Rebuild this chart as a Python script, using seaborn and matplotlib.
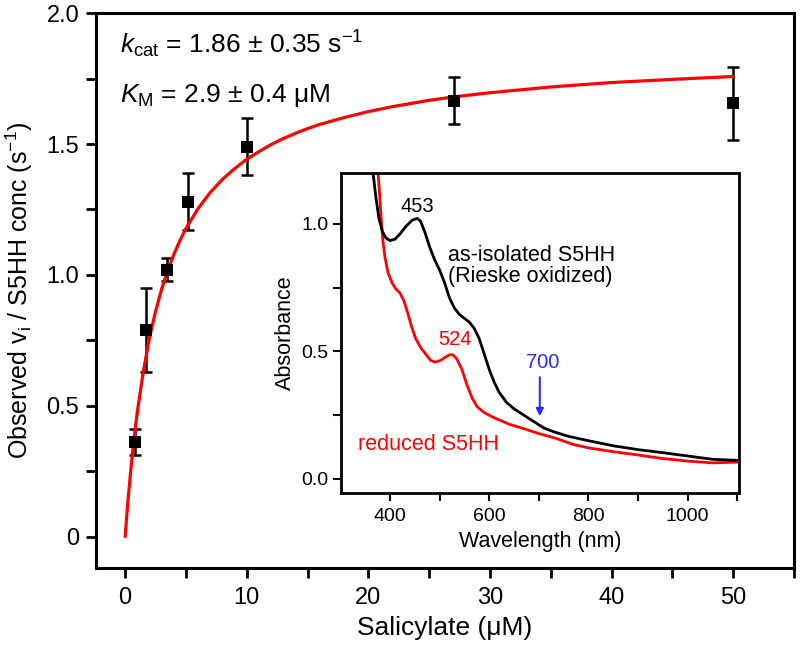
import matplotlib
matplotlib.use("Agg")
import matplotlib.pyplot as plt
import seaborn as sns
import pandas as pd
from matplotlib.ticker import MultipleLocator, FixedLocator

# ---- main plot data ----
sal_conc = [0.8, 1.7, 3.4, 5.2, 10.0, 27.0, 50.0]
rate = [0.36, 0.79, 1.02, 1.28, 1.49, 1.665, 1.655]
rate_err = [0.05, 0.16, 0.045, 0.11, 0.11, 0.09, 0.14]

fit_x = [0, 0.1, 0.25, 0.5, 0.75, 1, 1.5, 2, 2.5, 3, 3.5, 4, 4.5, 5, 6, 7, 8, 9, 10, 11, 12, 13,
         14, 15, 16, 18, 20, 22, 25, 27, 30, 35, 40, 45, 50]
fit_y = [0, 0.062, 0.148, 0.274, 0.382, 0.477, 0.634, 0.759, 0.861, 0.946, 1.017, 1.078, 1.131,
         1.177, 1.254, 1.315, 1.365, 1.406, 1.442, 1.471, 1.498, 1.521, 1.541, 1.559, 1.575,
         1.601, 1.624, 1.643, 1.667, 1.680, 1.696, 1.718, 1.735, 1.747, 1.758]

x_ticks = [0, 10, 20, 30, 40, 50]
y_ticks = [0, 0.5, 1.0, 1.5, 2.0]
y_tick_labels = ["0", "0.5", "1.0", "1.5", "2.0"]

# ---- inset spectra ----
ox_nm = [362, 366, 372, 378, 385, 392, 400, 410, 420, 432, 445, 455, 462, 470, 480, 490, 500, 510,
         520, 530, 540, 550, 560, 570, 580, 590, 600, 610, 620, 635, 650, 670, 690, 710, 730, 760,
         800, 850, 900, 950, 1000, 1050, 1100]
ox_abs = [1.25, 1.2, 1.1, 1.02, 0.97, 0.945, 0.935, 0.94, 0.96, 0.99, 1.015, 1.022, 1.01, 0.97,
          0.91, 0.86, 0.82, 0.77, 0.71, 0.67, 0.645, 0.63, 0.615, 0.59, 0.55, 0.49, 0.43, 0.38,
          0.34, 0.30, 0.275, 0.25, 0.225, 0.20, 0.185, 0.167, 0.15, 0.13, 0.115, 0.103, 0.09,
          0.077, 0.073]
red_nm = [374, 378, 382, 386, 390, 396, 404, 412, 420, 428, 436, 444, 452, 462, 472, 482, 492,
          502, 512, 520, 527, 535, 545, 555, 565, 575, 590, 610, 640, 670, 700, 730, 770, 800,
          850, 900, 950, 1000, 1050, 1100]
red_abs = [1.25, 1.15, 1.03, 0.93, 0.87, 0.81, 0.77, 0.745, 0.73, 0.70, 0.65, 0.595, 0.55, 0.515,
           0.49, 0.465, 0.458, 0.465, 0.478, 0.487, 0.487, 0.47, 0.43, 0.37, 0.32, 0.285, 0.26,
           0.24, 0.215, 0.197, 0.178, 0.162, 0.135, 0.122, 0.107, 0.094, 0.08, 0.07, 0.063, 0.066]
inset_x_ticks = [400, 600, 800, 1000]
inset_y_ticks = [0.0, 0.5, 1.0]

sns.set_theme(style="ticks")
plt.rcParams["font.family"] = ["Liberation Sans", "DejaVu Sans"]
plt.rcParams["mathtext.fontset"] = "custom"
plt.rcParams["mathtext.rm"] = "Liberation Sans"
plt.rcParams["mathtext.it"] = "Liberation Sans:italic"
plt.rcParams["mathtext.default"] = "regular"

fig = plt.figure(figsize=(8, 6.52), dpi=100)
ax = fig.add_axes([0.12, 0.1288, 0.8725, 0.851])

main_df = pd.DataFrame({"x": sal_conc, "y": rate, "err": rate_err})
fit_df = pd.DataFrame({"x": fit_x, "y": fit_y})

ax.errorbar(main_df["x"], main_df["y"], yerr=main_df["err"], fmt="none", ecolor="black",
            elinewidth=1.8, capsize=4.5, capthick=1.8, zorder=2)
sns.lineplot(data=fit_df, x="x", y="y", ax=ax, color="#ff0000", linewidth=2.3, zorder=3)
sns.scatterplot(data=main_df, x="x", y="y", ax=ax, marker="s", s=78, color="black",
                edgecolor="black", linewidth=0, zorder=4)

ax.set_xlim(-2.4, 55)
ax.set_ylim(-0.12, 2.0)
ax.set_xticks(x_ticks)
ax.set_xticklabels([str(v) for v in x_ticks])
ax.set_yticks(y_ticks)
ax.set_yticklabels(y_tick_labels)
ax.xaxis.set_minor_locator(MultipleLocator(5))
ax.yaxis.set_minor_locator(MultipleLocator(0.25))
for sp in ax.spines.values():
    sp.set_linewidth(2.2)
    sp.set_color("black")
    sp.set_visible(True)
ax.tick_params(axis="both", which="both", direction="out", length=7, width=2,
               color="black", labelsize=17, labelcolor="black")
ax.tick_params(axis="x", which="major", pad=7)
ax.tick_params(axis="y", which="major", pad=5)
ax.set_xlabel("Salicylate (\u03bcM)", fontsize=19, color="black")
ax.set_ylabel("Observed v$_\\mathrm{i}$ / S5HH conc (s$^{-1}$)", fontsize=18, color="black")
ax.xaxis.set_label_coords(0.5, -0.087)
ax.yaxis.set_label_coords(-0.087, 0.5)

ax.text(-0.4, 1.847, "$\\mathit{k}_\\mathrm{cat}$ = 1.86 \u00b1 0.35 s$^{-1}$", fontsize=19,
        color="black", va="baseline", ha="left")
ax.text(-0.4, 1.661, "$\\mathit{K}_\\mathrm{M}$ = 2.9 \u00b1 0.4 \u03bcM", fontsize=19,
        color="black", va="baseline", ha="left")

# ---- inset ----
ins = fig.add_axes([0.426, 0.2439, 0.4975, 0.4908])
ins.set_facecolor("white")
ox_df = pd.DataFrame({"nm": ox_nm, "A": ox_abs})
red_df = pd.DataFrame({"nm": red_nm, "A": red_abs})
sns.lineplot(data=red_df, x="nm", y="A", ax=ins, color="#ff0000", linewidth=2.0, sort=False)
sns.lineplot(data=ox_df, x="nm", y="A", ax=ins, color="black", linewidth=2.0, sort=False)
ins.set_xlim(301, 1103)
ins.set_ylim(-0.055, 1.2)
ins.set_xticks(inset_x_ticks)
ins.set_xticklabels([str(v) for v in inset_x_ticks])
ins.set_yticks(inset_y_ticks)
ins.set_yticklabels(["0.0", "0.5", "1.0"])
ins.xaxis.set_minor_locator(FixedLocator([300, 500, 700, 900, 1100]))
ins.yaxis.set_minor_locator(FixedLocator([0.25, 0.75]))
for sp in ins.spines.values():
    sp.set_linewidth(2.0)
    sp.set_color("black")
    sp.set_visible(True)
ins.tick_params(axis="both", which="both", direction="out", length=6, width=1.5,
                color="black", labelsize=14, labelcolor="black")
ins.tick_params(axis="x", which="major", pad=5)
ins.tick_params(axis="y", which="major", pad=3)
ins.set_xlabel("Wavelength (nm)", fontsize=15.5, color="black")
ins.set_ylabel("Absorbance", fontsize=15.5, color="black")
ins.xaxis.set_label_coords(0.5, -0.118)
ins.yaxis.set_label_coords(-0.112, 0.5)

ins.text(456, 1.07, "453", fontsize=14.5, color="black", ha="center", va="center")
ins.text(517, 0.835, "as-isolated S5HH\n(Rieske oxidized)", fontsize=15.5, color="black",
         ha="left", va="center", linespacing=1.05)
ins.text(531, 0.545, "524", fontsize=14.5, color="#ff0000", ha="center", va="center")
ins.text(336, 0.137, "reduced S5HH", fontsize=15.5, color="#ff0000", ha="left", va="center")
ins.text(708, 0.455, "700", fontsize=14.5, color="#2a2aff", ha="center", va="center")
ins.annotate("", xy=(702, 0.235), xytext=(702, 0.41),
             arrowprops=dict(arrowstyle="-|>", color="#2a2aff", lw=1.5, mutation_scale=11))

fig.savefig("out.png", dpi=100)
